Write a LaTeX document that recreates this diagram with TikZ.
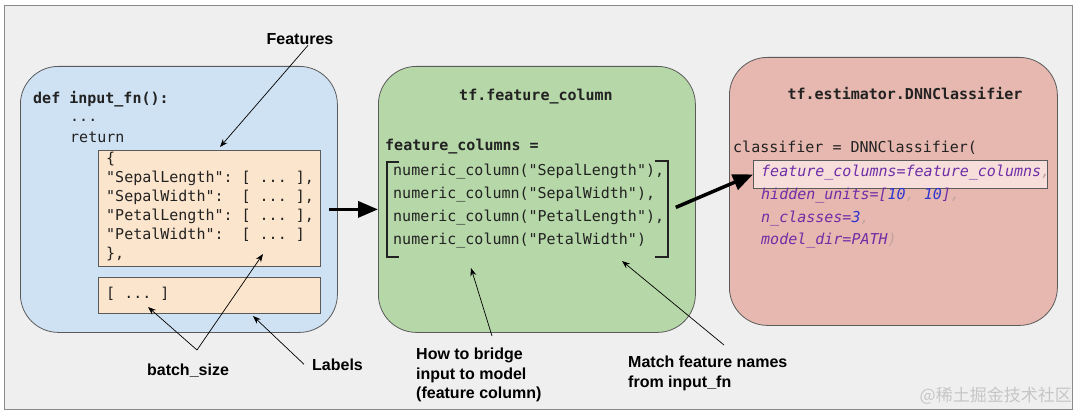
\documentclass[tikz,border=0pt]{standalone}
\usepackage{fontspec}
\setmainfont{Liberation Sans}
\setsansfont{Liberation Sans}
\setmonofont{DejaVu Sans Mono}
\newfontfamily\cjkwm{Noto Sans CJK SC}
\usetikzlibrary{arrows.meta,positioning}

\definecolor{framebg}{HTML}{EFEFEF}
\definecolor{frameline}{HTML}{8A8A8A}
\definecolor{boxline}{HTML}{5A5A5A}
\definecolor{inblue}{HTML}{CFE2F3}
\definecolor{fcgreen}{HTML}{B6D7A8}
\definecolor{estred}{HTML}{E6B8AF}
\definecolor{dictorange}{HTML}{FCE5CD}
\definecolor{hlpink}{HTML}{F7DEDB}
\definecolor{codeblack}{HTML}{222222}
\definecolor{argpurple}{HTML}{6E2EA6}
\definecolor{numblue}{HTML}{2F36CF}
\definecolor{punctgray}{HTML}{C4A2A0}
\definecolor{wmgray}{HTML}{C6C6C6}

\newcommand\argtxt[1]{\textcolor{argpurple}{#1}}
\newcommand\numtxt[1]{\textcolor{numblue}{#1}}
\newcommand\cpunct[1]{\textcolor{punctgray}{#1}}
\newcommand\codedots{...}

\tikzset{
    every node/.style={font=\ttfamily\fontsize{15}{18}\selectfont, inner sep=0pt, text=codeblack},
    panel/.style={draw=boxline, line width=0.8pt, rounded corners=38pt, anchor=north west},
    dictbox/.style={draw=boxline, line width=0.7pt, fill=dictorange, anchor=north west},
    codeline/.style={anchor=mid west},
    codehead/.style={anchor=mid, font=\ttfamily\bfseries\fontsize{15}{18}\selectfont},
    note/.style={font=\sffamily\bfseries\fontsize{16}{19.5}\selectfont, align=left, text=black},
    thin arrow/.style={-{Stealth[length=8pt,width=6pt]}, line width=0.7pt},
    fat arrow/.style={-{Triangle[length=20pt,width=16pt]}, line width=3.5pt},
    bracket/.style={line width=1.3pt, draw=codeblack}
}

\begin{document}
\begin{tikzpicture}[x=1pt,y=-1pt]

    \useasboundingbox (0,0) rectangle (1080,417);
    \draw[fill=framebg, draw=frameline, line width=1pt] (4,6) rectangle (1072,409);

    % the three panels
    \node[panel, fill=inblue, minimum width=317pt, minimum height=266pt] (inbox) at (20,66) {};
    \node[panel, fill=fcgreen, minimum width=317pt, minimum height=266pt] (fcbox) at (378,66) {};
    \node[panel, fill=estred, minimum width=328pt, minimum height=268pt] (estbox) at (729,57) {};

    % input_fn
    \node[codeline, font=\ttfamily\bfseries\fontsize{15}{18}\selectfont] (defline) at (33,101) {def input\_fn():};
    \node[codeline] (dots) at (70,119) {\codedots};
    \node[codeline] (ret) at (70,140) {return};

    \node[dictbox, minimum width=222pt, minimum height=116pt] (featbox) at (98,150) {};
    \node[dictbox, minimum width=222pt, minimum height=36pt] (labelbox) at (98,277) {};

    \foreach \txt [count=\i from 0] in {%
        {\{},
        {"SepalLength":\ [\ \codedots\ ],},
        {"SepalWidth":\ \ [\ \codedots\ ],},
        {"PetalLength":\ [\ \codedots\ ],},
        {"PetalWidth":\ \ [\ \codedots\ ]},
        {\},}}
        \node[codeline] (feat\i) at (106,161+19*\i) {\txt};
    \node[codeline] (labeltxt) at (106,296) {[\ \codedots\ ]};

    % feature columns
    \node[codehead] (fctitle) at (536,98) {tf.feature\_column};
    \node[codeline, font=\ttfamily\bfseries\fontsize{15}{18}\selectfont] (fcvar) at (385,148) {feature\_columns =};
    \foreach \txt [count=\i from 0] in {%
        {numeric\_column("SepalLength"),},
        {numeric\_column("SepalWidth"),},
        {numeric\_column("PetalLength"),},
        {numeric\_column("PetalWidth")}}
        \node[codeline] (num\i) at (393,173+22.8*\i) {\txt};
    \draw[bracket] (399,162) -- (387,162) -- (387,257) -- (399,257);
    \draw[bracket] (655,161) -- (668,161) -- (668,257) -- (655,257);

    % estimator
    \node[codehead] (esttitle) at (905,97) {tf.estimator.DNNClassifier};
    \node[codeline] (clsline) at (733,150) {classifier = DNNClassifier(};
    \node[draw=boxline, line width=0.8pt, fill=hlpink, anchor=north west,
          minimum width=294pt, minimum height=28pt] (hlbox) at (753,160) {};
    \foreach \txt [count=\i from 0] in {%
        {\argtxt{feature\_columns=feature\_columns}\cpunct{,}},
        {\argtxt{hidden\_units=[}\numtxt{10}\cpunct{,}\ \numtxt{10}\argtxt{]}\cpunct{,}},
        {\argtxt{n\_classes=}\numtxt{3}\cpunct{,}},
        {\argtxt{model\_dir=PATH}\cpunct{)}}}
        \node[codeline, font=\ttfamily\itshape\fontsize{15}{18}\selectfont] (arg\i) at (761,174+22.7*\i) {\txt};

    % notes
    \node[note, anchor=base] (featlbl) at (300,45) {Features};
    \node[note, anchor=base] (batchlbl) at (188,375) {batch\_size};
    \node[note, anchor=base west] (labelslbl) at (312,370) {Labels};
    \node[note, anchor=north west] (bridgelbl) at (416,348) {How to bridge\\input to model\\(feature column)};
    \node[note, anchor=north west] (matchlbl) at (628,356) {Match feature names\\from input\_fn};

    \coordinate (feattip) at (220,147);
    \coordinate (batchfork) at (197,350);
    \coordinate (labeldots) at (148,307);
    \coordinate (featdots) at (263,254);
    \coordinate (labeltip) at (253,316);
    \coordinate (bridgefrom) at (492,336);
    \coordinate (bridgetip) at (471,268);
    \coordinate (matchfrom) at (724,345);
    \coordinate (matchtip) at (622,261);

    \draw[thin arrow] ([xshift=8pt]featlbl.south) -- (feattip);
    \draw[thin arrow] (batchfork) -- (labeldots);
    \draw[thin arrow] (batchfork) -- (featdots);
    \draw[thin arrow] ([xshift=-8pt]labelslbl.west) -- (labeltip);
    \draw[thin arrow] (bridgefrom) -- (bridgetip);
    \draw[thin arrow] (matchfrom) -- (matchtip);

    \draw[fat arrow] ([xshift=-9pt,yshift=-10pt]inbox.east) -- ([yshift=-10pt]fcbox.west);
    \draw[fat arrow] ([xshift=-20pt,yshift=-8pt]fcbox.east) -- (hlbox.west);

    \node[font=\cjkwm\fontsize{17}{17}\selectfont, text=wmgray, anchor=mid east] (wmark) at (1072,399) {@稀土掘金技术社区};

\end{tikzpicture}
\end{document}
